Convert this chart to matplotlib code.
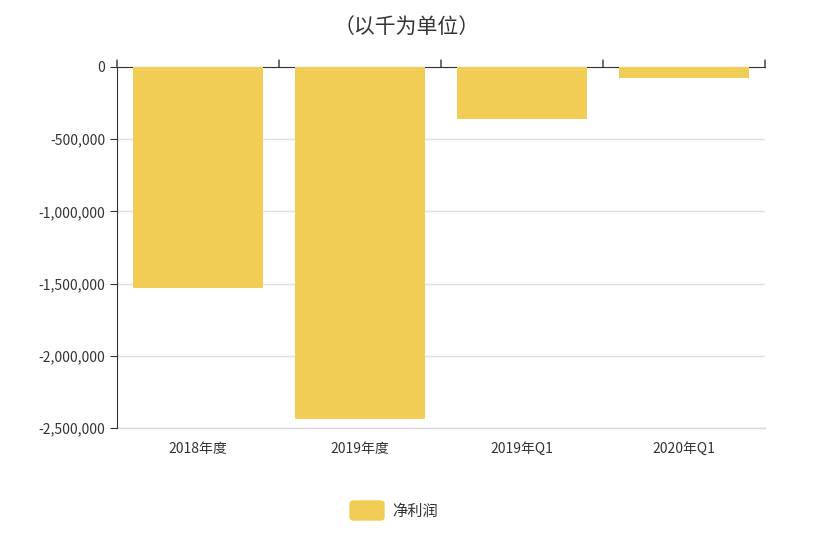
import matplotlib
matplotlib.use("Agg")
import matplotlib.pyplot as plt
from matplotlib.patches import FancyBboxPatch

plt.rcParams['font.family'] = ['Noto Sans CJK SC', 'DejaVu Sans']

categories = ["2018年度", "2019年度", "2019年Q1", "2020年Q1"]
values = [-1530000, -2437000, -360000, -75000]
yticks = [0, -500000, -1000000, -1500000, -2000000, -2500000]
ytick_labels = ["0", "-500,000", "-1,000,000", "-1,500,000", "-2,000,000", "-2,500,000"]
color = "#F2CD55"

fig = plt.figure(figsize=(8.13, 5.33), dpi=100)
ax = fig.add_axes([117/813, 1-428/533, (765-117)/813, (428-67)/533])
x = range(len(categories))
ax.bar(x, values, width=0.8, color=color, zorder=3)
ax.set_xlim(-0.5, 3.5)
ax.set_ylim(-2500000, 0)
ax.set_yticks(yticks)
ax.set_yticklabels(ytick_labels, fontsize=10, color="#333333")
ax.set_xticks(list(x))
ax.set_xticklabels(categories, fontsize=10, color="#333333")
ax.tick_params(axis='x', length=0, pad=10)
ax.tick_params(axis='y', length=5, color="#333333")
ax.grid(axis='y', color="#e0e0e0", lw=1, zorder=0)
for s in ["right", "bottom"]:
    ax.spines[s].set_visible(False)
ax.spines["left"].set_color("#333333")
ax.spines["top"].set_color("#333333")
ax.axhline(-2500000, color="#d8d8d8", lw=1, zorder=1, clip_on=False)
for b in [-0.5, 0.5, 1.5, 2.5, 3.5]:
    ax.annotate("", xy=(b, 0), xytext=(0, 5), textcoords="offset points",
                xycoords="data", arrowprops=dict(arrowstyle="-", color="#333333", lw=1,
                                                 shrinkA=0, shrinkB=0),
                annotation_clip=False)
fig.text(0.5, 1-27/533, "（以千为单位）", ha="center", va="center", fontsize=15, color="#333333")
fig.patches.append(FancyBboxPatch((350/813, 1-520/533), 34/813, 19/533,
                                  boxstyle="round,pad=0,rounding_size=0.005",
                                  transform=fig.transFigure, color=color))
fig.text(392/813, 1-511/533, "净利润", ha="left", va="center", fontsize=11, color="#333333")
fig.savefig("out.png", dpi=100)
